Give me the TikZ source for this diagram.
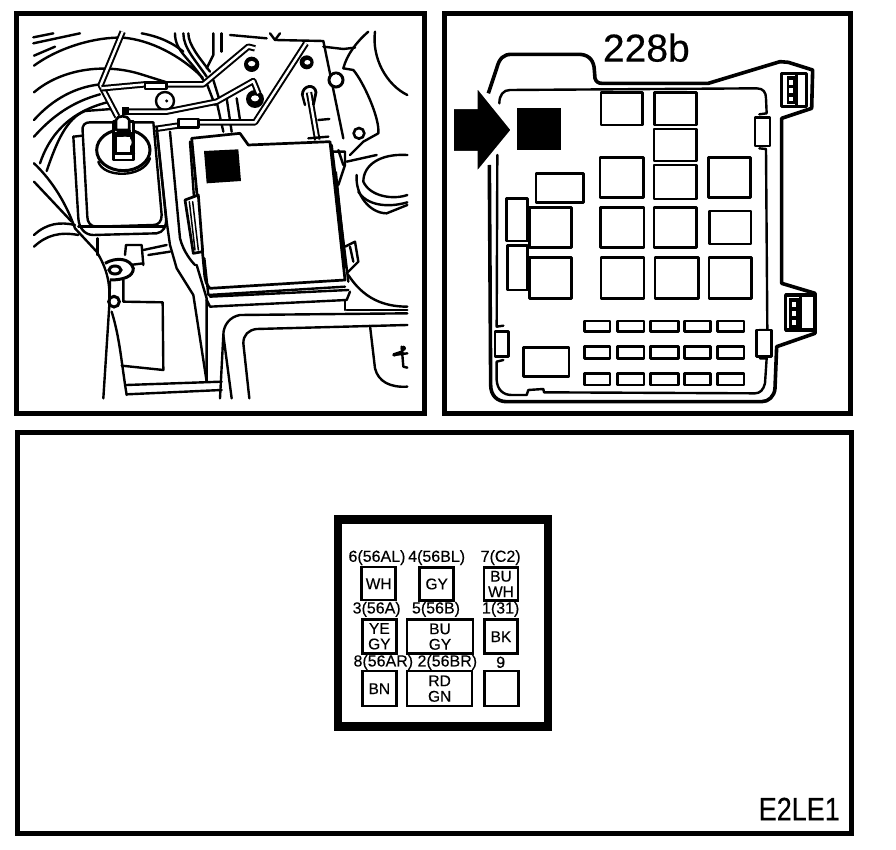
\documentclass[tikz,border=0pt]{standalone}
\usepackage{graphicx}
\usepackage{fontspec}
\setmainfont[FakeBold=0.35]{Liberation Sans}
\tikzset{
 frame/.style={draw=black,line width=5pt,fill=white},
 ln/.style={draw=black,line width=2.4pt,line join=round,line cap=round},
 thin/.style={draw=black,line width=1.5pt,line join=round,line cap=round},
 shell/.style={draw=black,line width=3.6pt,line join=round},
 pipe/.style={draw=black,line width=2pt,double=white,double distance=2.4pt,line join=round},
 part/.style={draw=black,line width=2.7pt,fill=white,line join=round},
 nut/.style={fill=black,draw=none},
 blk/.style={fill=black,draw=none},
 cell/.style={draw=black,line width=2.6pt,fill=white,inner sep=0pt,align=center,font=\fontsize{15.5}{15.5}\selectfont},
 pin/.style={inner sep=0pt,font=\fontsize{16}{16}\selectfont},
 zl/.style={shift={(10,5)},x=0.33333pt,y=-0.33333pt},
 zr/.style={shift={(440,5)},x=0.33333pt,y=-0.33333pt},
 zc/.style={shift={(330,510)},x=0.33333pt,y=-0.33333pt}
}
\begin{document}
\begin{tikzpicture}[x=1pt,y=-1pt]
\useasboundingbox (0,0) rectangle (896,850);
\fill[white] (0,0) rectangle (896,850);
\draw[frame] (16.5,14) rectangle (424,413);
\draw[frame] (444.5,14) rectangle (850.5,413);
\draw[frame] (17,432.5) rectangle (851,833.5);

% ---------- left panel : engine bay
\begin{scope}[zl]
\draw[ln] (70,97)--(130,85);
\draw[ln] (70,115)--(210,85);
\draw[ln] (72,152)--(135,125);
\draw[ln] (72,182) .. controls (150,125) and (260,95) .. (340,98) .. controls (420,105) and (510,150) .. (578,218);
\draw[ln] (395,85) .. controls (450,95) and (490,115) .. (520,140);
\draw[ln] (72,262) .. controls (150,195) and (280,170) .. (400,210) -- (470,232);
\draw[ln] (72,345) .. controls (130,280) and (200,245) .. (272,238);
\draw[ln] (72,395) .. controls (130,330) and (190,290) .. (270,268);
\draw[ln] (90,475) .. controls (115,400) and (170,320) .. (300,290);
\draw[ln] (110,498) .. controls (140,410) and (170,340) .. (225,318) -- (305,312);
\draw[ln] (495,85) .. controls (495,140) and (540,160) .. (580,225);
\draw[ln] (520,85) .. controls (520,130) and (560,170) .. (590,215);
\draw[ln] (535,85) .. controls (535,120) and (570,160) .. (600,200);
\draw[ln] (610,85)--(610,150)--(590,190);
\draw[ln] (635,85)--(635,140);
\draw[ln] (660,90)--(770,100);
\draw[ln] (780,85)--(795,105)--(810,85);
\draw[ln] (795,105)--(940,108)--(1000,400);
\draw[ln] (940,125)--(1000,132)--(1035,128);
\draw[ln] (1000,190) .. controls (1010,150) and (1040,110) .. (1075,80);
\draw[ln] (1095,80) .. controls (1085,160) and (1130,240) .. (1192,270);
\draw[ln] (1000,190) -- (1030,195) .. controls (1060,230) and (1110,340) .. (1105,385) -- (1060,410) -- (1020,450);
\draw[ln] (1192,450) .. controls (1110,445) and (1060,480) .. (1060,530) .. controls (1080,575) and (1150,585) .. (1192,570);
\draw[ln] (1010,470) -- (1100,450);
\draw[ln] (1040,510) .. controls (1035,570) and (1080,625) .. (1130,625) -- (1192,600);
\draw[ln] (1045,560) .. controls (1070,600) and (1130,610) .. (1192,592);
% studs behind the pipes
\draw[ln,fill=white] (465,288) circle[radius=27];
\fill[black] (470,288) circle[radius=5];
\draw[ln] (620,290)--(640,380);
\draw[ln] (650,280)--(665,380);
\draw[ln] (680,280)--(690,345);
\draw[ln] (590,235)--(615,300);
\draw[ln] (610,225)--(630,290);
% nuts
\fill[nut] (725,178) circle[radius=23];
\fill[white] (725,176) ellipse[x radius=11,y radius=8];
\fill[nut] (735,282) circle[radius=27];
\fill[white] (735,280) ellipse[x radius=12,y radius=9];
\fill[nut] (890,172) circle[radius=21];
\fill[white] (892,172) ellipse[x radius=9,y radius=7];
\draw[draw=black,line width=3pt,fill=white] (978,225) circle[radius=21];
\fill[white] (978,220) circle[radius=12];
\draw[draw=black,line width=2.6pt,fill=white] (1047,385) circle[radius=16];
% pipes
\draw[pipe] (338,80)--(272,240)--(322,335);
\draw[pipe] (275,250)--(405,238)--(580,238)--(715,125)--(735,130);
\draw[pipe] (340,320)--(470,320)--(620,290)--(730,228)--(745,265);
\draw[pipe] (435,372)--(570,352)--(735,352)--(888,115);
\draw[part] (405,232) rectangle (470,252);
\draw[part] (505,342) rectangle (565,368);
\draw[pipe] (897,262)--(922,405);
\draw[draw=black,line width=2.8pt] (877,270) .. controls (877,240) and (915,235) .. (918,262) -- (910,300);
\draw[ln] (877,270)--(885,300);
\draw[ln] (895,400)--(955,395);
\draw[ln] (925,345)--(958,342);
% reservoir
\draw[ln] (190,395)--(205,640) .. controls (207,670) and (225,690) .. (250,690) -- (440,685) .. controls (460,682) and (470,665) .. (468,640) -- (440,365);
\draw[ln] (218,380) .. controls (215,360) and (225,352) .. (240,352) -- (430,352) -- (455,630) .. controls (455,650) and (445,660) .. (430,660) -- (260,665) .. controls (240,665) and (232,650) .. (232,635) -- cycle;
\draw[ln] (190,395)--(218,392);
\draw[ln] (205,665)--(465,665);
\draw[draw=black,line width=3pt,fill=white] (340,435) ellipse[x radius=80,y radius=62];
\draw[ln] (265,470) .. controls (280,520) and (400,520) .. (420,460);
\draw[part] (310,350) rectangle (370,465);
\draw[part] (318,345) .. controls (320,330) and (355,330) .. (358,345) -- (358,375) -- (318,375) -- cycle;
\fill[black] (310,380) rectangle (322,440);
\fill[black] (360,380) rectangle (375,440);
\fill[black] (320,375) rectangle (362,395);
\fill[white] (345,412) ellipse[x radius=20,y radius=17];
\draw[ln] (310,445)--(372,445);
\fill[black] (335,305) rectangle (358,330);
% strip beside the box
\draw[ln] (440,375)--(470,650)--(480,720)--(500,790) -- (550,870) -- (590,1130);
\draw[ln] (480,380)--(510,700) .. controls (520,740) and (545,770) .. (555,780);
\draw[ln] (560,780)--(590,880)--(590,1130);
% lower left
\draw[ln] (72,530) -- (185,650);
\draw[ln] (72,475) .. controls (130,530) and (170,600) .. (195,670) -- (260,740) .. controls (290,790) and (300,830) .. (298,880);
\draw[ln] (72,690) .. controls (110,655) and (150,650) .. (195,660);
\draw[ln] (72,725) .. controls (110,690) and (150,680) .. (205,690);
\draw[ln] (262,700)--(262,750);
\draw[ln] (345,750)--(348,720)--(395,720)--(400,780);
\draw[ln] (400,735)--(470,720);
\draw[ln] (415,750)--(480,740);
\draw[ln] (360,780)--(400,775);
\draw[draw=black,line width=3pt,fill=white] (285,775) .. controls (320,755) and (360,760) .. (370,790) .. controls (370,815) and (340,825) .. (300,825);
\draw[draw=black,line width=3pt] (315,795) ellipse[x radius=18,y radius=12];
\draw[ln] (340,825)--(340,890)--(458,892)--(460,1095)--(335,1082);
\draw[draw=black,line width=3pt] (312,890) circle[radius=16];
\draw[ln] (300,830)--(298,900)--(280,1180);
\draw[ln] (305,920) .. controls (330,1000) and (335,1080) .. (350,1170);
\draw[ln] (350,1140)--(635,1130);
\draw[ln] (350,1168)--(635,1155);
% box
\draw[part] (545,400) -- (690,385) -- (715,420) -- (960,410) -- (1005,825) -- (600,850) .. controls (590,840) and (585,830) .. (583,800) -- cycle;
\draw[ln] (540,410)--(555,620);
\draw[ln] (583,760)--(595,870)--(1005,845);
\draw[ln] (600,875)--(1015,855);
\draw[ln] (590,885)--(600,905)--(1010,885)--(1020,860);
\draw[ln] (1005,885)--(1005,915);
\draw[ln] (965,420)--(1015,830);
\draw[line width=4pt] (975,500)--(1005,790);
\fill[blk] (582,438)--(685,433)--(693,528)--(590,535)--cycle;
\draw[part] (525,585) -- (565,570) -- (578,740) -- (550,745) -- cycle;
\draw[thin] (538,590)--(555,735);
\draw[thin] (548,590)--(565,735);
% latches on the box's right side
\draw[ln] (968,440)--(1005,440)--(1005,480)--(985,540);
\draw[ln] (985,435)--(1000,480);
\draw[ln] (1005,725)--(1035,710)--(1045,770)--(1010,805);
\draw[ln] (1020,725)--(1030,770);
% lower right shapes
\draw[ln] (1015,810) .. controls (1060,880) and (1120,905) .. (1192,905);
\draw[ln] (1010,915)--(1192,915);
\draw[ln] (1192,925)--(690,930) .. controls (660,935) and (640,960) .. (640,990) -- (630,1180);
\draw[ln] (640,990)--(665,1180);
\draw[ln] (1192,960)--(740,972) .. controls (715,975) and (700,990) .. (700,1015) -- (718,1180);
\draw[ln] (1080,962)--(1095,1090) .. controls (1105,1130) and (1140,1148) .. (1192,1145);
\draw[ln] (1150,1050)--(1192,1045);
\draw[line width=3.5pt] (1150,1050)--(1180,1040);
\draw[ln] (1175,1025)--(1180,1085)--(1192,1088);
\fill[black] (1180,1030) circle[radius=8];
\end{scope}

% ---------- right panel : fuse box
\begin{scope}[zr]
\node[inner sep=0pt,font=\fontsize{39}{39}\selectfont] (title) at (619,128) {228b};
\draw[shell] (145,265) -- (170,190) .. controls (178,160) and (190,148) .. (215,148) -- (420,148) .. controls (450,150) and (462,170) .. (463,195) -- (465,220) .. controls (468,230) and (475,235) .. (485,235) -- (805,235) -- (1020,170) -- (1045,172) -- (1118,195) -- (1115,310) -- (1025,340) -- (1025,835) -- (1125,865) -- (1125,985) -- (1010,1025) -- (1005,1150) .. controls (1003,1175) and (985,1190) .. (965,1190) -- (200,1190) .. controls (170,1190) and (152,1170) .. (152,1140) -- (148,480);
\draw[ln] (178,295) .. controls (178,270) and (190,255) .. (210,255) -- (950,250) .. controls (970,250) and (978,262) .. (978,280) -- (980,325) -- (958,328);
\draw[ln] (958,430)--(978,432)--(982,975)--(958,975);
\draw[ln] (960,1060)--(980,1060)--(975,1135) .. controls (970,1155) and (960,1165) .. (945,1165) -- (312,1162) -- (310,1152) -- (265,1155) -- (260,1170) -- (215,1170) .. controls (190,1170) and (172,1155) .. (170,1125) -- (170,1070) -- (190,1065);
\draw[ln] (190,962)--(170,965)--(172,450);
\foreach \a/\b/\c/\d [count=\i] in {483/262/607/360,643/262/770/360,642/372/770/468,480/458/610/578,642/480/770/582,805/458/932/578,288/505/430/593,482/607/612/728,642/607/770/728,808/618/933/717,268/607/395/727,268/758/395/880,483/758/612/880,645/758/775/880,807/758/935/880,200/580/262/708,203/722/262/855,250/1027/387/1115,945/338/990/423,165/980/205/1055,950/975/995/1055}
  \draw[part] (\a,\b) rectangle (\c,\d);
\foreach \y/\h in {948/980,1025/1060,1105/1140}
  \foreach \a/\c in {433/510,532/612,632/715,733/812,832/912}
    \draw[part] (\a,\y) rectangle (\c,\h);
% latches
\draw[shell,fill=white] (1025,205) rectangle (1100,305);
\draw[line width=3pt] (1070,205)--(1070,305);
\fill[black] (1040,212) rectangle (1066,298);
\foreach \y in {225,250,275} \fill[white] (1048,\y) rectangle (1058,\y+14);
\draw[shell,fill=white] (1037,870) rectangle (1125,975);
\draw[line width=3pt] (1082,870)--(1082,975);
\fill[black] (1048,878) rectangle (1076,968);
\foreach \y in {890,918,945} \fill[white] (1055,\y) rectangle (1068,\y+16);
\fill[blk] (232,310) rectangle (362,436);
\draw[white,line width=3pt,fill=black,line join=miter] (37,308)--(108,308)--(108,240)--(217,375)--(108,508)--(108,442)--(37,442)--cycle;
\end{scope}

% ---------- connector view
\begin{scope}[zc]
\draw[draw=black,line width=8.5pt,fill=white] (24,28) rectangle (654,650);
\node[cell,minimum width=34pt,minimum height=33pt] (wh) at (146,221) {WH};
\node[cell,minimum width=34pt,minimum height=33pt] (gy) at (320,222) {GY};
\node[cell,minimum width=34pt,minimum height=33pt] (buwh) at (513,222) {BU\\WH};
\node[cell,minimum width=34pt,minimum height=34pt] (yegy) at (148,379) {YE\\GY};
\node[cell,minimum width=66pt,minimum height=34pt] (bugy) at (330,380) {BU\\GY};
\node[cell,minimum width=33pt,minimum height=34pt] (bk) at (513,380) {BK};
\node[cell,minimum width=34pt,minimum height=35pt] (bn) at (148,536) {BN};
\node[cell,minimum width=65pt,minimum height=35pt] (rdgn) at (329,536) {RD\\GN};
\node[cell,minimum width=34pt,minimum height=35pt] (blank) at (514,536) {};
\node[pin] (p6) at (141,143) {6(56AL)};
\node[pin] (p4) at (320,143) {4(56BL)};
\node[pin] (p7) at (512,143) {7(C2)};
\node[pin] (p3) at (140,298) {3(56A)};
\node[pin] (p5) at (318,298) {5(56B)};
\node[pin] (p1) at (512,298) {1(31)};
\node[pin] (p8) at (160,457) {8(56AR)};
\node[pin] (p2) at (352,457) {2(56BR)};
\node[pin] (p9) at (512,457) {9};
\end{scope}
\node[inner sep=0pt,anchor=east,font=\fontsize{27}{27}\selectfont] (code) at (840,809) {\scalebox{1}[1.2]{E2LE1}};
\end{tikzpicture}
\end{document}
